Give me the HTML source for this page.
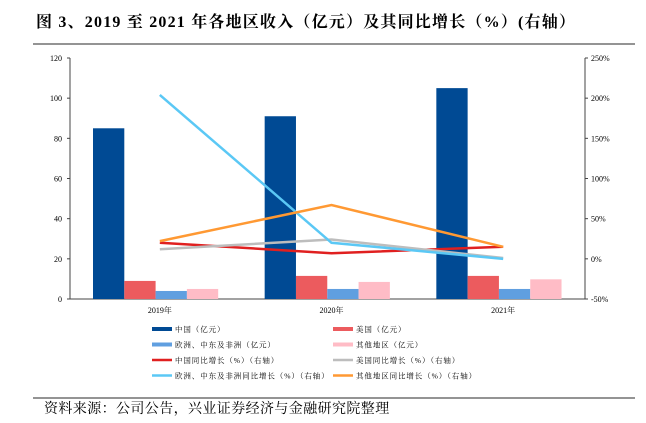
<!DOCTYPE html>
<html><head><meta charset="utf-8"><style>
body{margin:0;background:#fff;width:646px;height:418px;overflow:hidden;font-family:"Liberation Serif","Noto Serif CJK SC",serif}
</style></head><body>
<svg width="646" height="418" xmlns="http://www.w3.org/2000/svg">
<text x="36" y="27" font-size="16" font-weight="bold" letter-spacing="1.2" fill="#000">图 3、2019 至 2021 年各地区收入（亿元）及其同比增长（%）(右轴）</text>
<line x1="33" y1="44" x2="635" y2="44" stroke="#555" stroke-width="1.2"/>
<g id="plot"></g>
<line x1="33" y1="398" x2="635" y2="398" stroke="#555" stroke-width="1.2"/>
<text x="44" y="413" font-size="14" letter-spacing="0.4" fill="#000">资料来源：公司公告，兴业证券经济与金融研究院整理</text>
</svg>
<script>
const categories=["2019年","2020年","2021年"];
const china=[85,91,105];
const usa=[9,11.5,11.5];
const europe=[4,5,5];
const other=[5,8.5,9.8];
const chinaYoY=[20,7,15];
const usaYoY=[12,24,1];
const europeYoY=[204,20,0];
const otherYoY=[22,67,15];
const leftTicks=[0,20,40,60,80,100,120];
const rightTicks=[-50,0,50,100,150,200,250];
const NS="http://www.w3.org/2000/svg";
const g=document.getElementById('plot');
const X0=70,X1=585,Y0=299,Y1=58;
const yL=v=>Y0-(v/120)*(Y0-Y1);
const yR=v=>Y0-((v+50)/300)*(Y0-Y1);
const cw=(X1-X0)/categories.length;
const xc=i=>X0+cw*i+cw/2;
function el(t,a){const e=document.createElementNS(NS,t);for(const k in a)e.setAttribute(k,a[k]);g.appendChild(e);return e;}
let e;
e=el('line',{x1:X0,y1:Y1,x2:X0,y2:Y0,stroke:'#444'});


e=el('line',{x1:X1,y1:Y1,x2:X1,y2:Y0,stroke:'#444'});


e=el('line',{x1:X0,y1:Y0,x2:X1,y2:Y0,stroke:'#444'});


leftTicks.forEach(v=>{
 el('line',{x1:X0-3,x2:X0,y1:yL(v),y2:yL(v),stroke:'#444'});
 const t=el('text',{x:X0-8,y:yL(v)+3,'font-size':8,'text-anchor':'end'});t.textContent=v;
 
 
});
rightTicks.forEach(v=>{
 el('line',{x1:X1,x2:X1+3,y1:yR(v),y2:yR(v),stroke:'#444'});
 const t=el('text',{x:X1+6,y:yR(v)+3,'font-size':8});t.textContent=v+'%';
 
 
});
const bw=31.3;
const series=[[china,'#004a94','china'],[usa,'#ec5b5e','usa'],[europe,'#609fe0','europe'],[other,'#ffbcc6','other']];
categories.forEach((c,i)=>{
 const start=X0+cw*i+23;
 series.forEach((s,j)=>{
  const r=el('rect',{x:start+j*bw,y:yL(s[0][i]),width:bw,height:Y0-yL(s[0][i]),fill:s[1]});
  
  
 });
 const t=el('text',{x:xc(i)+4,y:313,'font-size':8,'text-anchor':'middle'});t.textContent=c;
 
 
});
const lines=[[chinaYoY,'#e02020','china-yoy-line'],[usaYoY,'#bdbdbd','usa-yoy-line'],[europeYoY,'#5bc8f5','europe-yoy-line'],[otherYoY,'#ff9933','other-yoy-line']];
lines.forEach(l=>{
 const p=el('polyline',{points:l[0].map((v,i)=>(xc(i)+4)+','+yR(v)).join(' '),fill:'none',stroke:l[1],'stroke-width':2.5});
 
 
});
const legend=[['中国（亿元）','#004a94',4],['美国（亿元）','#ec5b5e',4],['欧洲、中东及非洲（亿元）','#609fe0',4],['其他地区（亿元）','#ffbcc6',4],['中国同比增长（%）（右轴）','#e02020',2.5],['美国同比增长（%）（右轴）','#bdbdbd',2.5],['欧洲、中东及非洲同比增长（%）（右轴）','#5bc8f5',2.5],['其他地区同比增长（%）（右轴）','#ff9933',2.5]];
legend.forEach((L,k)=>{
 const col=k%2,row=Math.floor(k/2);
 const x=col?333:152,y=329+row*15.5;
 el('line',{x1:x,x2:x+20,y1:y,y2:y,stroke:L[1],'stroke-width':L[2]});
 const t=el('text',{x:x+23,y:y+3,'font-size':7.5,'letter-spacing':0.9});t.textContent=L[0];
 
 
});
</script>
</body></html>
